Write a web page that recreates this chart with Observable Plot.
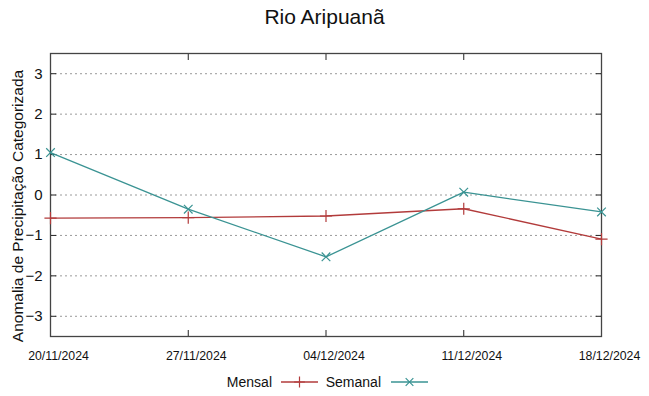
<!DOCTYPE html>
<html>
<head>
<meta charset="utf-8">
<script src="https://cdn.jsdelivr.net/npm/d3@7"></script>
<script src="https://cdn.jsdelivr.net/npm/@observablehq/plot@0.6"></script>
<style>
  html, body { margin: 0; padding: 0; background: #fff; }
  #wrap { position: relative; width: 649px; height: 396px; font-family: "Liberation Sans", Arial, sans-serif; }
  #title { position: absolute; left: 0; width: 649px; top: 5px; text-align: center; font-size: 21px; color: #111; }
  #legend { position: absolute; top: 372px; left: 0; width: 649px; font-size: 14px; color: #111; }
  #chart { position: absolute; left: 0; top: 0; }
</style>
</head>
<body>
<div id="wrap">
  <div id="chart"></div>
  <div id="title">Rio Aripuanã</div>
  <div id="legend"></div>
</div>
<script>
const dates = ["2024-11-20", "2024-11-27", "2024-12-04", "2024-12-11", "2024-12-18"];
const tickLabels = ["20/11/2024", "27/11/2024", "04/12/2024", "11/12/2024", "18/12/2024"];
const mensal = [-0.57, -0.56, -0.52, -0.34, -1.09];
const semanal = [1.05, -0.35, -1.53, 0.07, -0.42];
const yTicks = [-3, -2, -1, 0, 1, 2, 3];

const colMensal = "#b23b3b";
const colSemanal = "#3a9393";

const parse = d3.utcParse("%Y-%m-%d");
const xDates = dates.map(parse);
const dM = xDates.map((d, i) => ({date: d, v: mensal[i]}));
const dS = xDates.map((d, i) => ({date: d, v: semanal[i]}));

const chart = Plot.plot({
  width: 649,
  height: 396,
  marginTop: 53,
  marginBottom: 60,
  marginLeft: 50,
  marginRight: 48,
  style: {fontFamily: "Liberation Sans, Arial, sans-serif", background: "transparent", color: "#111"},
  x: {type: "utc", domain: [xDates[0], xDates[xDates.length - 1]]},
  y: {domain: [-3.5, 3.5]},
  marks: [
    Plot.gridY(yTicks, {stroke: "#9a9a9a", strokeOpacity: 1, strokeDasharray: "2,3", strokeWidth: 1}),
    Plot.axisY(yTicks, {anchor: "left", tickSize: 0, tickPadding: 8, fontSize: 15, label: null}),
    Plot.axisY(yTicks, {anchor: "left", tickSize: -6, text: null, stroke: "#222", label: null}),
    Plot.axisY(yTicks, {anchor: "right", tickSize: -6, text: null, stroke: "#222", label: null}),
    Plot.axisX(xDates, {anchor: "bottom", tickSize: 0, tickPadding: 15, dx: 8, fontSize: 12.3, label: null,
      tickFormat: (d) => tickLabels[xDates.findIndex(e => +e === +d)]}),
    Plot.axisX(xDates, {anchor: "bottom", tickSize: -6, text: null, stroke: "#222", label: null}),
    Plot.axisX(xDates, {anchor: "top", tickSize: -6, text: null, stroke: "#222", label: null}),
    Plot.frame({stroke: "#444", strokeWidth: 1.3}),
    Plot.line(dM, {x: "date", y: "v", stroke: colMensal, strokeWidth: 1.3}),
    Plot.dot(dM, {x: "date", y: "v", symbol: "plus", r: 4, stroke: colMensal, strokeWidth: 1.2}),
    Plot.line(dS, {x: "date", y: "v", stroke: colSemanal, strokeWidth: 1.3}),
    Plot.dot(dS, {x: "date", y: "v", symbol: "times", r: 4, stroke: colSemanal, strokeWidth: 1.2}),
    Plot.text(["Anomalia de Precipitação Categorizada"], {
      frameAnchor: "left", textAnchor: "middle", dx: -32, dy: 11, rotate: -90, fontSize: 15.5, fill: "#111"
    })
  ]
});
document.getElementById("chart").appendChild(chart);

// legend
const series = [
  {name: "Mensal", color: colMensal, symbol: "plus"},
  {name: "Semanal", color: colSemanal, symbol: "times"}
];
const lg = d3.select("#legend").append("svg").attr("width", 649).attr("height", 22);
const pos = [{tx: 272, lx1: 281, lx2: 318}, {tx: 381, lx1: 391, lx2: 428}];
series.forEach((s, i) => {
  const p = pos[i];
  lg.append("text").attr("x", p.tx).attr("y", 15).attr("text-anchor", "end")
    .attr("font-size", 14).attr("font-family", "Liberation Sans, Arial, sans-serif").attr("fill", "#111").text(s.name);
  lg.append("line").attr("x1", p.lx1).attr("x2", p.lx2).attr("y1", 10).attr("y2", 10)
    .attr("stroke", s.color).attr("stroke-width", 1.3);
  const cx = (p.lx1 + p.lx2) / 2;
  const sym = d3.symbol(s.symbol === "plus" ? d3.symbolPlus : d3.symbolTimes, 40)();
  lg.append("path").attr("d", sym).attr("transform", `translate(${cx},10)`)
    .attr("fill", "none").attr("stroke", s.color).attr("stroke-width", 1.2);
});
</script>
</body>
</html>
